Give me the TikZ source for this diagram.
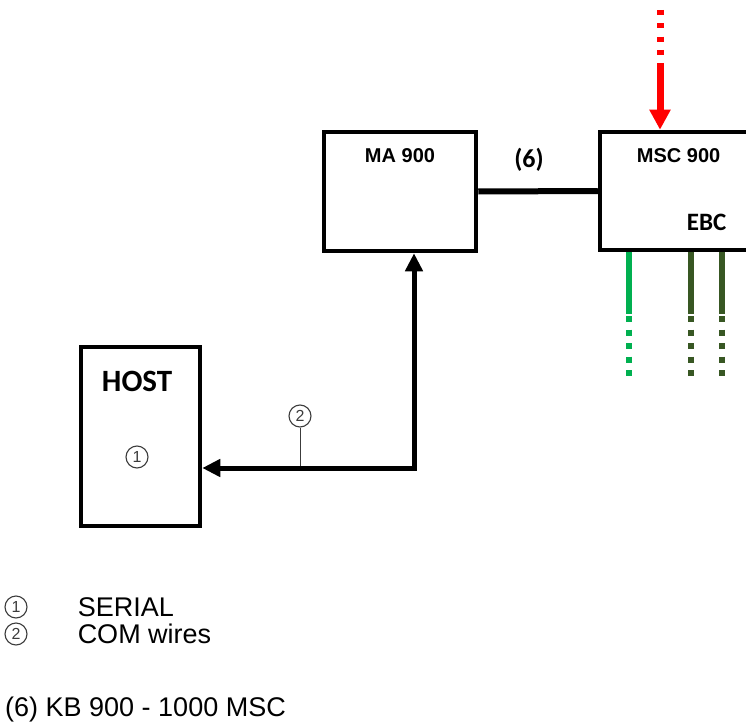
\documentclass[tikz,border=0pt]{standalone}
\usepackage{fontspec}
\setmainfont{Liberation Sans}
\newfontfamily\calibfont{Carlito}
\usetikzlibrary{arrows.meta,positioning}
\definecolor{ebcgreen}{RGB}{0,176,80}
\definecolor{ebcolive}{RGB}{56,87,35}
\definecolor{markgray}{RGB}{60,60,60}

\begin{document}
\begin{tikzpicture}[x=1pt,y=-1pt,
  unitbox/.style={draw,line width=4.5pt,inner sep=0},
  boxtitle/.style={inner sep=0,font=\bfseries\fontsize{20}{20}\selectfont},
  calib/.style={inner sep=0,font=\calibfont\bfseries\fontsize{#1}{#1}\selectfont},
  callout/.style={circle,draw=markgray,text=markgray,line width=1.1pt,minimum size=22pt,inner sep=0,font=\fontsize{16}{16}\selectfont},
  keytext/.style={inner sep=0,font=\fontsize{27}{27}\selectfont},
  link/.style={line width=6pt},
  wire/.style={line width=5pt,{Triangle[length=18pt,width=17pt]}-{Triangle[length=18pt,width=17pt]}},
  leader/.style={draw=markgray,line width=1pt},
  redfeed/.style={red,line width=7pt},
  bus/.style={line width=6pt}
]
\useasboundingbox (0,0) rectangle (746,722);
\clip (0,0) rectangle (746,722);

\node[unitbox,minimum width=152pt,minimum height=119pt] (ma) at (400,191.5) {};
\node[unitbox,minimum width=224pt,minimum height=118pt] (msc) at (712,191) {};
\node[unitbox,minimum width=119pt,minimum height=179pt] (host) at (140.5,436.5) {};

\node[boxtitle,below=19pt of ma.north] (matitle) {MA 900};
\node[boxtitle,below right=19pt and 39pt of msc.north west] (msctitle) {MSC 900};
\node[calib=25,below right=84pt and 89pt of msc.north west] (ebc) {EBC};
\node[calib=31,below right=26pt and 23pt of host.north west] (hosttitle) {HOST};

\node[callout] (serial) at (137,457) {1};
\node[callout] (com) at (300,416) {2};
\coordinate (bend) at (414,468);

\draw[link] (ma.east) -- node[calib=26,above=17pt,xshift=-9pt] (six) {(6)} (msc.west);
\draw[leader] (com) -- (com |- bend);
\draw[wire] (bend -| host.east) -- (bend) -- (bend |- ma.south);

\coordinate (feedtop) at (660,10);
\coordinate (feedmid) at (660,63);
\draw[redfeed,dash pattern=on 5pt off 8.3pt] (feedtop) -- ([yshift=7pt]feedmid);
\draw[redfeed,-{Triangle[length=20pt,width=20pt]}] (feedmid) -- (feedtop |- msc.north);

\foreach \gx/\gcol [count=\i] in {629/ebcgreen,691/ebcolive,722/ebcolive}{
  \coordinate (ebcmid\i) at (\gx,314);
  \coordinate (ebcend\i) at (\gx,378);
  \draw[bus,\gcol] (ebcmid\i |- msc.south) -- (ebcmid\i);
  \draw[bus,\gcol,dash pattern=on 6pt off 7.5pt] ([yshift=-2pt]ebcmid\i) -- (ebcend\i);
}

\node[callout] (key1) at (16,607) {1};
\node[callout] (key2) at (16,634) {2};
\node[keytext,right=50pt of key1] (serialtext) {SERIAL};
\node[keytext,right=50pt of key2] (comtext) {COM wires};
\node[keytext,anchor=base west] (note) at (5,716) {(6) KB 900 - 1000 MSC};
\end{tikzpicture}
\end{document}
